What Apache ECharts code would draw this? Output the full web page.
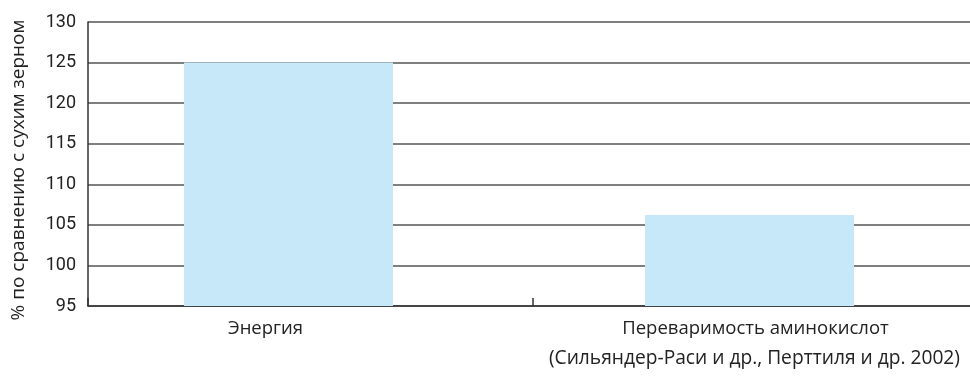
<!DOCTYPE html>
<html>
<head>
<meta charset="utf-8">
<script src="https://cdn.jsdelivr.net/npm/echarts@6/dist/echarts.min.js"></script>
<style>
  html, body { margin: 0; padding: 0; background: #fff; }
  #chart { width: 970px; height: 376px; }
</style>
</head>
<body>
<div id="chart"></div>
<script>
  // данные
  var categories = ['Энергия', 'Переваримость аминокислот'];
  var energy = [125, '-'];
  var aminoAcids = ['-', 106.2];
  var yTicks = [95, 100, 105, 110, 115, 120, 125, 130];
  var yName = '% по сравнению с сухим зерном';
  var source = '(Сильяндер-Раси и др., Перттиля и др. 2002)';

  var barColor = '#c6e8f8';
  var spacer = { type: 'bar', data: [0, 0], silent: true, itemStyle: { color: 'rgba(0,0,0,0)' } };

  var myChart = echarts.init(document.getElementById('chart'));
  myChart.setOption({
    animation: false,
    textStyle: { fontFamily: 'Open Sans' },
    grid: { left: 88, right: -8, top: 22, bottom: 70, outerBoundsMode: 'none', containLabel: false },
    title: {
      text: source,
      right: 5,
      bottom: 3,
      textStyle: { fontSize: 19.2, fontWeight: 'normal', color: '#222', fontFamily: 'Open Sans' }
    },
    xAxis: [
      {
        type: 'category',
        data: categories,
        axisLine: { lineStyle: { color: '#333', width: 1.5 } },
        axisTick: { show: true, interval: 0, inside: true, length: 8, lineStyle: { color: '#333', width: 1.5 } },
        axisLabel: {
          margin: 13,
          color: '#222',
          fontSize: 18.5,
          interval: 0,
          formatter: function (v, i) { return i === 0 ? '{a|' + v + '}' : '{b|' + v + '}'; },
          rich: {
            a: { fontSize: 18.5, color: '#222', padding: [0, 90, 0, 0] },
            b: { fontSize: 18.5, color: '#222' }
          }
        }
      },
      {
        type: 'category',
        data: categories,
        show: false
      }
    ],
    yAxis: {
      type: 'value',
      min: yTicks[0],
      max: yTicks[yTicks.length - 1],
      interval: 5,
      name: yName,
      nameLocation: 'middle',
      nameGap: 60,
      nameTextStyle: { fontSize: 19, color: '#222', padding: [0, 12, 0, 0] },
      axisLine: { show: true, lineStyle: { color: '#333', width: 1.5 } },
      axisTick: { show: false },
      axisLabel: { fontSize: 18, color: '#222', margin: 12, fontFamily: 'Roboto' },
      splitLine: { lineStyle: { color: '#555', width: 1.5 } }
    },
    series: [
      // первая группа: столбец чуть левее центра категории
      { type: 'bar', xAxisIndex: 0, data: energy, barWidth: 209, barGap: '0%', itemStyle: { color: barColor } },
      Object.assign({}, spacer, { xAxisIndex: 0, barWidth: 44 }),
      // вторая группа на скрытой оси
      { type: 'bar', xAxisIndex: 1, data: aminoAcids, barWidth: 209, barGap: '0%', itemStyle: { color: barColor } },
      Object.assign({}, spacer, { xAxisIndex: 1, barWidth: 12 })
    ]
  });
</script>
</body>
</html>
